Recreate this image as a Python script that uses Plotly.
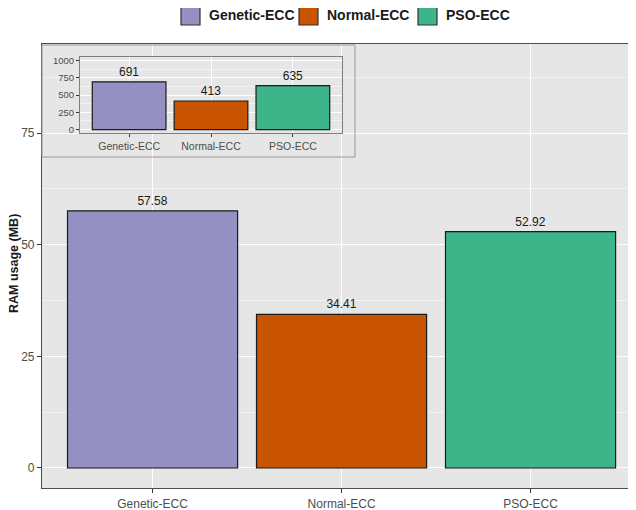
import plotly.graph_objects as go

# ---- data ----
categories = ["Genetic-ECC", "Normal-ECC", "PSO-ECC"]
ram_usage_mb = [57.58, 34.41, 52.92]
inset_values = [691, 413, 635]
bar_colors = ["#9490C2", "#C85400", "#3DB489"]
main_y_ticks = [0, 25, 50, 75]
inset_y_ticks = [0, 250, 500, 750, 1000]
y_title = "RAM usage (MB)"

# the page body has an 8px margin, so the figure is laid out 8px smaller
OFF = 8
W, H = 636 - OFF, 510 - OFF
FONT = "Liberation Sans, Arial, sans-serif"
PANEL_BG = "#E6E6E6"

def px_x(p):
    return (p - OFF) / W

def px_y(p):
    return 1 - (p - OFF) / H

fig = go.Figure()

# main bars
for cat, val, col in zip(categories, ram_usage_mb, bar_colors):
    fig.add_trace(go.Bar(
        x=[cat], y=[val], name=cat, width=0.9,
        marker=dict(color=col, line=dict(color="#1A1A1A", width=1.2)),
        text=[f"{val:.2f}"], textposition="outside",
        textfont=dict(size=12, color="#1A1A1A", family=FONT),
        cliponaxis=False, showlegend=False,
        xaxis="x", yaxis="y",
    ))

# inset bars
for cat, val, col in zip(categories, inset_values, bar_colors):
    fig.add_trace(go.Bar(
        x=[cat], y=[val], name=cat, width=0.9,
        marker=dict(color=col, line=dict(color="#1A1A1A", width=1.2)),
        text=[str(val)], textposition="outside",
        textfont=dict(size=12, color="#1A1A1A", family=FONT),
        cliponaxis=False, showlegend=False,
        xaxis="x2", yaxis="y2",
    ))

axis_common = dict(
    ticks="outside", tickcolor="#333333", tickwidth=1,
    showgrid=True, gridcolor="white", zeroline=False,
    showline=True, automargin=False,
)

fig.update_layout(
    width=W, height=H,
    margin=dict(l=0, r=0, t=0, b=0, pad=0),
    paper_bgcolor="white",
    plot_bgcolor=PANEL_BG,
    barmode="overlay",
    font=dict(family=FONT, color="#4D4D4D"),
    xaxis=dict(
        **axis_common,
        domain=[px_x(42), 1.0],
        type="category", categoryorder="array", categoryarray=categories,
        range=[-0.585, 2.558],
        ticklen=4, gridwidth=1.1,
        linecolor="#4D4D4D", linewidth=1.2, mirror=True,
        tickfont=dict(size=12, color="#4D4D4D"),
        anchor="y",
    ),
    yaxis=dict(
        **axis_common,
        domain=[px_y(488), px_y(44)],
        range=[-4.48, 94.93],
        tickvals=main_y_ticks,
        ticklen=4, gridwidth=1.1,
        linecolor="#4D4D4D", linewidth=1.2, mirror=False,
        minor=dict(dtick=12.5, tick0=0, showgrid=True, gridcolor="#F2F2F2", gridwidth=0.6, ticks=""),
        tickfont=dict(size=12, color="#4D4D4D"),
        anchor="x",
    ),
    xaxis2=dict(
        **axis_common,
        domain=[px_x(80), px_x(342)],
        type="category", categoryorder="array", categoryarray=categories,
        range=[-0.6, 2.6],
        ticklen=3, gridwidth=0.8,
        linecolor="#7F7F7F", linewidth=1, mirror=True,
        tickfont=dict(size=10.5, color="#4D4D4D"),
        anchor="y2",
    ),
    yaxis2=dict(
        **axis_common,
        domain=[px_y(133), px_y(57)],
        range=[-50, 1050],
        tickvals=inset_y_ticks,
        ticklen=3, gridwidth=0.8,
        linecolor="#7F7F7F", linewidth=1, mirror=True,
        minor=dict(dtick=125, tick0=0, showgrid=True, gridcolor="#F2F2F2", gridwidth=0.5, ticks=""),
        tickfont=dict(size=9.5, color="#4D4D4D"),
        anchor="x2",
    ),
)

# y-axis title
fig.add_annotation(xref="paper", yref="paper", x=px_x(14), y=px_y(264),
                   text=f"<b>{y_title}</b>", showarrow=False, textangle=-90,
                   xanchor="center", yanchor="middle",
                   font=dict(size=12.5, color="#1A1A1A", family=FONT))

# inset outer frame
fig.add_shape(type="rect", xref="paper", yref="paper",
              x0=px_x(42), x1=px_x(355), y0=px_y(157), y1=px_y(45),
              line=dict(color="#9A9A9A", width=1), fillcolor="rgba(0,0,0,0)",
              layer="above")

# custom legend (top, centered)
box_left = [181, 299, 418]
for cat, col, bx in zip(categories, bar_colors, box_left):
    fig.add_shape(type="rect", xref="paper", yref="paper",
                  x0=px_x(bx), x1=px_x(bx + 19), y0=px_y(25), y1=px_y(5),
                  line=dict(color="#333333", width=1.2), fillcolor=col)
    fig.add_annotation(xref="paper", yref="paper", x=px_x(bx + 26), y=px_y(15),
                       text=f"<b>{cat}</b>", showarrow=False,
                       xanchor="left", yanchor="middle",
                       font=dict(size=14, color="#1A1A1A", family=FONT))

fig.write_html("out.html")
